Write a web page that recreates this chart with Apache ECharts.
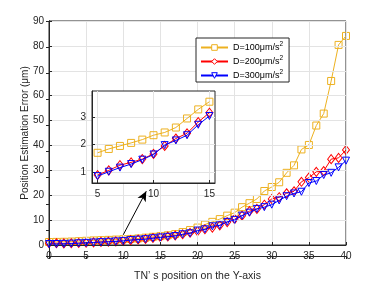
<!DOCTYPE html>
<html>
<head>
<meta charset="utf-8">
<script src="https://cdn.jsdelivr.net/npm/echarts@6/dist/echarts.min.js"></script>
<style>html,body{margin:0;padding:0;background:#fff;}#c{width:382px;height:287px;}</style>
</head>
<body>
<div id="c"></div>
<script>
const positions = [0,1,2,3,4,5,6,7,8,9,10,11,12,13,14,15,16,17,18,19,20,21,22,23,24,25,26,27,28,29,30,31,32,33,34,35,36,37,38,39,40];
const errD100 = [1.2,1.25,1.3,1.4,1.55,1.70,1.84,1.95,2.06,2.18,2.34,2.44,2.62,2.95,3.28,3.56,3.9,4.4,5.2,6.0,7.0,8.2,9.3,10.4,11.8,13.0,15.2,16.8,18.5,21.7,23.3,25.2,29.0,32.0,38.4,40.2,48.0,52.8,65.9,80.4,84.0];
const errD200 = [0.7,0.7,0.65,0.7,0.8,0.89,1.06,1.25,1.35,1.47,1.66,1.95,2.22,2.41,2.82,3.16,3.4,3.8,4.3,4.9,5.5,6.3,7.0,7.9,9.2,10.4,11.8,13.6,14.5,16.2,18.5,19.2,20.8,21.6,25.4,27.1,29.4,29.7,34.5,35.0,38.2];
const errD300 = [0.4,0.4,0.45,0.55,0.7,0.85,1.01,1.16,1.29,1.45,1.64,1.98,2.15,2.34,2.72,3.04,3.3,3.6,4.3,4.7,5.8,6.3,7.5,7.9,9.3,10.1,11.8,13.0,14.5,15.2,16.2,17.9,19.6,20.7,21.4,24.9,25.7,28.1,29.0,31.2,33.9];
const seriesNames = ['D=100μm/s2','D=200μm/s2','D=300μm/s2'];
const legendLabels = ['D=100μm/s','D=200μm/s','D=300μm/s'];
const colors = ['#EDB120','#FF0000','#0000FF'];
const symbols = ['rect','diamond','triangle'];
const symbolRotates = [0,0,180];
const insetRange = [5,15];
const insetXTicks = [5,10,15];
const insetYTicks = [1,2,3];
const arrowFrom = [10,4.1];
const arrowTo = [13.1,21.6];

const allData = [errD100, errD200, errD300];
const FONT = 'Liberation Sans, Arial, sans-serif';
const TXT = '#262626';

function pairs(arr, lo, hi) {
  const out = [];
  positions.forEach((x, i) => { if (x >= lo && x <= hi) out.push([x, arr[i]]); });
  return out;
}

const chart = echarts.init(document.getElementById('c'), null, {renderer: 'canvas'});

const axisCommon = {
  axisLine: {show: true, lineStyle: {color: TXT, width: 1}},
  axisTick: {show: true, inside: true, length: 3, lineStyle: {color: TXT}},
  axisLabel: {color: TXT, fontFamily: FONT, fontSize: 10},
};

const series = [];
allData.forEach((d, i) => {
  series.push({
    name: seriesNames[i], type: 'line', xAxisIndex: 0, yAxisIndex: 0,
    data: pairs(d, 0, 40), symbol: symbols[i], symbolRotate: symbolRotates[i],
    symbolSize: i === 1 ? [7,9] : 7, showAllSymbol: true,
    lineStyle: {color: colors[i], width: 1},
    itemStyle: {color: 'transparent', borderColor: colors[i], borderWidth: 1},
    z: 3 + i, animation: false,
    markLine: i === 2 ? {
      silent: true, symbol: ['none','arrow'], symbolSize: [7,10],
      lineStyle: {color: '#000', width: 1, type: 'solid'}, label: {show: false},
      data: [[{coord: arrowFrom}, {coord: arrowTo}]], animation: false
    } : undefined
  });
});
allData.forEach((d, i) => {
  series.push({
    name: seriesNames[i], type: 'line', xAxisIndex: 2, yAxisIndex: 2,
    data: pairs(d, insetRange[0], insetRange[1]), symbol: symbols[i], symbolRotate: symbolRotates[i],
    symbolSize: i === 1 ? [7,9] : 7, showAllSymbol: true,
    lineStyle: {color: colors[i], width: 1},
    itemStyle: {color: 'transparent', borderColor: colors[i], borderWidth: 1},
    z: 20 + i, animation: false
  });
});

chart.setOption({
  backgroundColor: '#fff',
  animation: false,
  textStyle: {fontFamily: FONT},
  grid: [
    {left: 49, right: 36, top: 21, bottom: 31, show: true, borderColor: TXT, borderWidth: 1, backgroundColor: '#fff', z: 0},
    {left: 49, right: 36, top: 21, bottom: 31, show: false},
    {left: 92, top: 91, width: 123, height: 92, show: true, borderColor: TXT, borderWidth: 1, backgroundColor: '#fff', z: 10}
  ],
  legend: {
    data: seriesNames.map((n, i) => ({name: n, itemStyle: {color: '#fff', borderColor: colors[i], borderWidth: 1}})),
    orient: 'vertical', left: 196, top: 38,
    backgroundColor: '#fff', borderColor: TXT, borderWidth: 1,
    padding: [3, 6, 2, 4], itemGap: 3, itemWidth: 27, itemHeight: 7,
    z: 30,
    formatter: function (name) { const k = seriesNames.indexOf(name); return '{a|' + legendLabels[k] + '}{s|2}'; },
    textStyle: {color: '#000', fontFamily: FONT, fontSize: 9,
      rich: {a: {fontSize: 9, fontFamily: FONT, color: '#000'}, s: {fontSize: 6.5, fontFamily: FONT, color: '#000', verticalAlign: 'top', padding: [0,0,6,0]}}}
  },
  xAxis: [
    Object.assign({}, axisCommon, {type: 'value', gridIndex: 0, min: 0, max: 40, interval: 5,
      splitLine: {show: true, lineStyle: {color: '#e3e3e3', width: 1}},
      axisLabel: Object.assign({}, axisCommon.axisLabel, {margin: 6}),
      name: 'TN’ s position on the Y-axis', nameLocation: 'middle', nameGap: 26, nameMoveOverlap: false,
      nameTextStyle: {color: TXT, fontFamily: FONT, fontSize: 10.5}, z: 5}),
    Object.assign({}, axisCommon, {type: 'value', gridIndex: 1, position: 'top', min: 0, max: 40, interval: 5,
      splitLine: {show: false}, axisLabel: {show: false}, z: 5}),
    Object.assign({}, axisCommon, {type: 'value', gridIndex: 2, min: 4.5, max: 15.5,
      splitLine: {show: true, lineStyle: {color: '#e3e3e3', width: 1}},
      axisTick: {show: true, inside: true, length: 3, lineStyle: {color: TXT}, customValues: insetXTicks},
      axisLabel: Object.assign({}, axisCommon.axisLabel, {margin: 6, customValues: insetXTicks}), z: 15})
  ],
  yAxis: [
    Object.assign({}, axisCommon, {type: 'value', gridIndex: 0, min: 0, max: 90, interval: 10,
      splitLine: {show: true, lineStyle: {color: '#e3e3e3', width: 1}},
      axisLabel: Object.assign({}, axisCommon.axisLabel, {margin: 5}),
      name: 'Position Estimation Error (μm)', nameLocation: 'middle', nameGap: 19, nameMoveOverlap: false,
      nameTextStyle: {color: TXT, fontFamily: FONT, fontSize: 10}, z: 5}),
    Object.assign({}, axisCommon, {type: 'value', gridIndex: 1, position: 'right', min: 0, max: 90, interval: 10,
      splitLine: {show: false}, axisLabel: {show: false}, z: 5}),
    Object.assign({}, axisCommon, {type: 'value', gridIndex: 2, min: 0.6, max: 3.95,
      splitLine: {show: true, lineStyle: {color: '#e3e3e3', width: 1}},
      axisTick: {show: true, inside: true, length: 3, lineStyle: {color: TXT}, customValues: insetYTicks},
      axisLabel: Object.assign({}, axisCommon.axisLabel, {margin: 6, customValues: insetYTicks}), z: 15})
  ],
  series: series
});
</script>
</body>
</html>
